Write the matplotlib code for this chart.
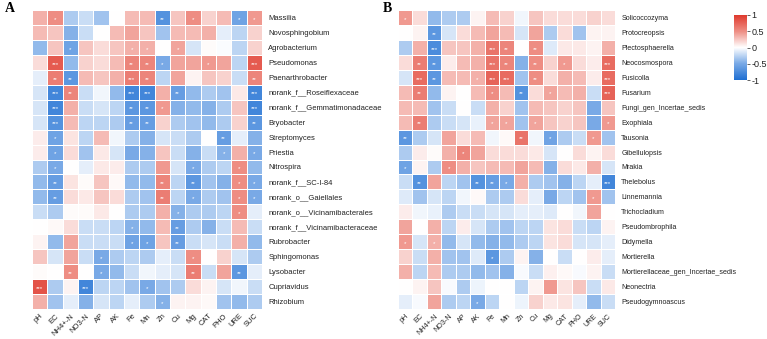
import matplotlib.pyplot as plt
from matplotlib.colors import LinearSegmentedColormap
import numpy as np

factors = ['pH', 'EC', 'NH4+-N', 'NO3-N', 'AP', 'AK', 'Fe', 'Mn', 'Zn', 'Cu',
           'Mg', 'CAT', 'PHO', 'URE', 'SUC']

# ---- panel A: bacteria ----
bact = ['Massilia', 'Novosphingobium', 'Agrobacterium', 'Pseudomonas',
        'Paenarthrobacter', 'norank_f__Roseiflexaceae', 'norank_f__Gemmatimonadaceae',
        'Bryobacter', 'Streptomyces', 'Priestia', 'Nitrospira', 'norank_f__SC-I-84',
        'norank_o__Gaiellales', 'norank_o__Vicinamibacterales',
        'norank_f__Vicinamibacteraceae', 'Rubrobacter', 'Sphingomonas', 'Lysobacter',
        'Cupriavidus', 'Rhizobium']

bact_r = [
    [0.35, 0.50, -0.30, -0.20, -0.35, 0.00, 0.30, 0.30, -0.70, 0.25, 0.50, 0.20, 0.30, -0.55, 0.45],
    [0.30, 0.25, -0.45, -0.20, 0.00, 0.30, 0.40, 0.25, -0.35, 0.30, 0.30, 0.35, -0.10, -0.25, 0.20],
    [-0.40, 0.25, -0.55, 0.25, 0.15, 0.25, 0.35, 0.35, 0.00, 0.40, -0.15, 0.02, -0.02, -0.25, 0.20],
    [0.15, 0.80, -0.40, 0.20, 0.15, 0.30, 0.55, 0.55, -0.50, 0.40, 0.40, 0.45, 0.40, -0.25, 0.80],
    [-0.10, 0.60, -0.65, 0.30, 0.25, 0.35, 0.60, 0.55, -0.25, 0.40, 0.05, 0.25, 0.20, -0.20, 0.55],
    [-0.15, -0.80, 0.55, -0.20, -0.05, -0.40, -0.80, -0.80, 0.35, -0.60, -0.40, -0.30, -0.35, 0.10, -0.80],
    [-0.15, -0.80, 0.35, -0.20, -0.15, -0.25, -0.65, -0.65, 0.45, -0.45, -0.40, -0.45, -0.30, 0.25, -0.80],
    [-0.15, -0.70, 0.30, -0.25, -0.25, -0.30, -0.60, -0.60, 0.20, -0.30, -0.35, -0.40, -0.30, 0.20, -0.65],
    [0.08, -0.55, 0.12, -0.25, 0.30, -0.05, -0.30, -0.45, -0.15, -0.20, -0.30, 0.00, -0.60, -0.10, -0.45],
    [0.08, -0.55, 0.15, -0.35, 0.10, -0.15, -0.50, -0.45, 0.25, -0.20, -0.45, -0.20, -0.45, 0.35, -0.50],
    [-0.30, -0.50, 0.00, -0.10, 0.10, 0.08, -0.30, -0.30, 0.45, -0.15, -0.50, -0.30, -0.25, 0.50, -0.40],
    [-0.40, -0.60, 0.12, 0.02, 0.25, 0.03, -0.40, -0.40, 0.55, -0.25, -0.65, -0.35, -0.45, 0.50, -0.50],
    [-0.40, -0.60, 0.15, 0.10, 0.25, 0.15, -0.30, -0.35, 0.60, -0.25, -0.50, -0.30, -0.35, 0.50, -0.50],
    [-0.20, -0.30, 0.02, 0.02, 0.10, 0.00, -0.30, -0.30, 0.35, -0.45, -0.30, -0.30, -0.25, 0.50, -0.10],
    [0.00, 0.03, 0.15, -0.20, -0.20, -0.25, -0.45, -0.40, 0.30, -0.60, -0.30, -0.45, -0.20, 0.30, -0.20],
    [0.05, -0.40, 0.40, -0.20, -0.20, -0.20, -0.55, -0.55, 0.25, -0.60, -0.20, -0.15, -0.20, 0.35, -0.40],
    [0.25, -0.15, 0.40, -0.20, -0.50, -0.30, -0.25, -0.30, -0.10, -0.20, 0.50, 0.00, 0.20, -0.15, -0.30],
    [0.02, 0.00, 0.50, 0.00, -0.50, -0.40, -0.20, -0.05, -0.10, -0.15, 0.60, -0.20, 0.40, -0.65, -0.10],
    [0.85, -0.30, 0.05, -0.80, -0.25, -0.25, -0.35, -0.50, -0.35, -0.30, 0.15, 0.05, -0.15, -0.05, -0.20],
    [0.35, -0.35, -0.10, -0.45, -0.15, -0.25, -0.10, -0.30, -0.45, 0.05, 0.05, 0.03, -0.35, -0.40, -0.30],
]

bact_sig = [
    ['', '*', '', '', '', '', '', '', '**', '', '*', '', '', '*', '*'],
    ['', '', '', '', '', '', '', '', '', '', '', '', '', '', ''],
    ['', '', '*', '', '', '', '*', '*', '', '*', '', '', '', '', ''],
    ['', '***', '', '', '', '', '**', '**', '*', '', '', '*', '', '', '***'],
    ['', '**', '**', '', '', '', '***', '**', '', '', '', '', '', '', '**'],
    ['', '***', '**', '', '', '', '***', '***', '', '**', '', '', '', '', '***'],
    ['', '***', '', '', '', '', '**', '**', '*', '', '', '', '', '', '***'],
    ['', '***', '', '', '', '', '**', '**', '', '', '', '', '', '', '**'],
    ['', '*', '', '', '', '', '', '', '', '', '', '', '**', '', ''],
    ['', '*', '', '', '', '', '', '', '', '', '', '', '*', '', '*'],
    ['', '*', '', '', '', '', '', '', '', '', '*', '', '', '*', ''],
    ['', '**', '', '', '', '', '', '', '**', '', '**', '', '', '*', '*'],
    ['', '**', '', '', '', '', '', '', '**', '', '*', '', '', '*', '*'],
    ['', '', '', '', '', '', '', '', '', '*', '', '', '', '*', ''],
    ['', '', '', '', '', '', '*', '', '', '**', '', '', '', '', ''],
    ['', '', '', '', '', '', '*', '*', '', '**', '', '', '', '', ''],
    ['', '', '', '', '*', '', '', '', '', '', '*', '', '', '', ''],
    ['', '', '**', '', '*', '', '', '', '', '', '**', '', '', '**', ''],
    ['***', '', '', '***', '', '', '', '*', '', '', '', '', '', '', ''],
    ['', '', '', '', '', '', '', '', '*', '', '', '', '', '', ''],
]

# ---- panel B: fungi ----
fung = ['Solicoccozyma', 'Protocreopsis', 'Plectosphaerella', 'Neocosmospora',
        'Fusicolla', 'Fusarium', 'Fungi_gen_Incertae_sedis', 'Exophiala', 'Tausonia',
        'Gibellulopsis', 'Mrakia', 'Thelebolus', 'Linnemannia', 'Trichocladium',
        'Pseudombrophila', 'Didymella', 'Mortierella',
        'Mortierellaceae_gen_Incertae_sedis', 'Neonectria', 'Pseudogymnoascus']

fung_r = [
    [0.45, 0.15, -0.40, -0.30, -0.30, 0.05, 0.30, 0.20, -0.05, 0.25, 0.15, 0.15, 0.15, 0.20, 0.15],
    [0.00, 0.05, -0.65, -0.15, 0.15, 0.30, 0.40, 0.30, -0.15, 0.40, -0.30, 0.15, -0.35, 0.05, 0.05],
    [-0.30, 0.35, -0.75, 0.25, 0.25, 0.35, 0.65, 0.55, 0.00, 0.50, -0.12, 0.10, 0.10, 0.05, 0.35],
    [0.15, 0.60, -0.65, 0.08, 0.30, 0.35, 0.65, 0.55, -0.45, 0.50, 0.20, 0.45, 0.15, 0.08, 0.70],
    [-0.15, 0.70, -0.65, 0.30, 0.30, 0.35, 0.75, 0.70, -0.35, 0.50, 0.15, 0.35, 0.30, 0.08, 0.70],
    [0.30, 0.60, -0.40, 0.05, 0.00, 0.30, 0.50, 0.30, -0.70, 0.15, 0.40, 0.30, 0.35, -0.20, 0.75],
    [0.30, 0.30, -0.35, -0.20, 0.00, -0.20, 0.35, 0.20, -0.35, 0.30, 0.25, 0.20, 0.25, -0.50, 0.25],
    [0.30, 0.60, -0.30, -0.20, -0.15, -0.08, 0.40, 0.40, -0.35, 0.40, 0.25, 0.20, 0.25, -0.50, 0.45],
    [-0.65, -0.30, -0.15, 0.40, 0.15, 0.30, -0.05, 0.03, 0.65, -0.05, -0.55, -0.30, -0.20, 0.45, -0.35],
    [-0.30, 0.08, 0.02, 0.35, 0.55, 0.40, 0.15, 0.15, 0.15, 0.10, -0.15, 0.00, 0.15, 0.05, 0.15],
    [-0.55, 0.05, -0.30, 0.50, 0.35, 0.25, 0.30, 0.30, 0.40, 0.30, -0.45, 0.15, 0.10, 0.35, -0.15],
    [-0.20, -0.70, 0.40, -0.25, -0.35, -0.70, -0.60, -0.50, 0.35, -0.30, -0.35, -0.45, -0.25, -0.10, -0.80],
    [-0.12, -0.35, -0.15, -0.25, -0.05, 0.03, -0.30, -0.30, 0.15, -0.10, -0.50, -0.25, -0.35, 0.45, -0.35],
    [0.08, -0.05, -0.08, -0.30, -0.20, -0.20, -0.15, -0.15, -0.10, -0.10, -0.12, 0.00, -0.05, 0.40, 0.00],
    [0.40, 0.00, 0.35, -0.25, 0.08, -0.15, -0.30, -0.35, -0.25, -0.25, 0.12, 0.15, -0.20, -0.25, 0.05],
    [0.45, -0.15, 0.35, -0.40, -0.15, -0.40, -0.45, -0.40, -0.30, -0.25, 0.12, 0.15, -0.15, -0.15, -0.10],
    [0.20, -0.20, 0.35, -0.35, -0.35, -0.12, -0.65, -0.30, 0.05, -0.45, 0.00, -0.20, 0.00, 0.08, -0.10],
    [0.35, -0.25, 0.30, -0.30, -0.30, -0.40, -0.35, -0.45, -0.03, -0.20, 0.07, 0.03, -0.03, 0.05, -0.20],
    [0.00, 0.05, 0.25, -0.03, -0.30, -0.07, 0.00, 0.00, -0.25, 0.05, 0.45, 0.12, 0.25, -0.20, 0.10],
    [-0.10, -0.03, 0.40, -0.30, -0.25, -0.50, -0.25, 0.00, -0.07, 0.20, 0.10, 0.12, -0.10, -0.40, -0.20],
]

fung_sig = [
    ['*', '', '', '', '', '', '', '', '', '', '', '', '', '', ''],
    ['', '', '**', '', '', '', '', '', '', '', '', '', '', '', ''],
    ['', '', '***', '', '', '', '***', '**', '', '**', '', '', '', '', ''],
    ['', '**', '**', '', '', '', '***', '**', '', '**', '', '*', '', '', '***'],
    ['', '***', '**', '', '', '*', '***', '***', '', '**', '', '', '', '', '***'],
    ['', '**', '', '', '', '', '*', '', '**', '', '*', '', '', '', '***'],
    ['', '', '', '', '', '', '', '', '', '', '', '', '', '', ''],
    ['', '**', '', '', '', '', '*', '*', '', '*', '', '', '', '', '*'],
    ['**', '', '', '', '', '', '', '', '**', '', '*', '', '', '*', ''],
    ['', '', '', '', '*', '', '', '', '', '', '', '', '', '', ''],
    ['*', '', '', '*', '', '', '', '', '', '', '', '', '', '', ''],
    ['', '**', '', '', '', '**', '**', '*', '', '', '', '', '', '', '***'],
    ['', '', '', '', '', '', '', '', '', '', '', '', '', '*', ''],
    ['', '', '', '', '', '', '', '', '', '', '', '', '', '', ''],
    ['', '', '', '', '', '', '', '', '', '', '', '', '', '', ''],
    ['*', '', '*', '', '', '', '', '', '', '', '', '', '', '', ''],
    ['', '', '', '', '', '', '*', '', '', '', '', '', '', '', ''],
    ['', '', '', '', '', '', '', '', '', '', '', '', '', '', ''],
    ['', '', '', '', '', '', '', '', '', '', '', '', '', '', ''],
    ['', '', '', '', '', '*', '', '', '', '', '', '', '', '', ''],
]

plt.rcParams['font.family'] = ['Liberation Sans', 'DejaVu Sans']
cmap = LinearSegmentedColormap.from_list(
    'cor', [(0, '#1f6fd2'), (0.25, '#78a9e6'), (0.5, '#ffffff'),
            (0.75, '#ee8e84'), (1, '#df3a2e')])

W, H = 767, 339
fig = plt.figure(figsize=(W / 100, H / 100), dpi=100)


def panel(left, width, rows, vals, sig, letter, letter_x, fs):
    ax = fig.add_axes([left / W, (H - 309) / H, width / W, 299 / H])
    data = np.array(vals)
    mesh = ax.pcolormesh(data, cmap=cmap, vmin=-1, vmax=1,
                         edgecolors='white', linewidth=0.6)
    ax.set_xlim(0, len(factors))
    ax.set_ylim(len(rows), 0)
    for i in range(len(rows)):
        for j in range(len(factors)):
            if sig[i][j]:
                ax.text(j + 0.5, i + 0.62, sig[i][j], ha='center', va='center',
                        color='white', fontsize=4.5)
    ax.set_xticks(np.arange(len(factors)) + 0.5)
    ax.set_xticklabels(factors, rotation=45, ha='right', rotation_mode='anchor',
                       fontsize=fs, color='#222222')
    ax.set_yticks(np.arange(len(rows)) + 0.5)
    ax.set_yticklabels(rows, fontsize=fs, color='#222222')
    ax.yaxis.tick_right()
    ax.tick_params(length=0)
    ax.tick_params(axis='y', pad=4.5)
    ax.tick_params(axis='x', pad=2.5)
    for s in ax.spines.values():
        s.set_visible(False)
    fig.text(letter_x / W, (H - 8) / H, letter, fontsize=10, fontweight='bold',
             family='Liberation Serif', va='center')
    return mesh


panel(32, 230, bact, bact_r, bact_sig, 'A', 5, 5.5)
mesh = panel(398, 217, fung, fung_r, fung_sig, 'B', 383, 5.1)

cax = fig.add_axes([734 / W, (H - 80) / H, 13 / W, 65 / H])
cb = fig.colorbar(mesh, cax=cax, ticks=[-1, -0.5, 0, 0.5, 1])
cb.set_ticklabels(['-1', '-0.5', '0', '0.5', '1'])
cb.outline.set_visible(False)
cax.tick_params(labelsize=6.5, length=2, width=0.5, pad=1, colors='#222222')

plt.savefig('out.png', dpi=100)
